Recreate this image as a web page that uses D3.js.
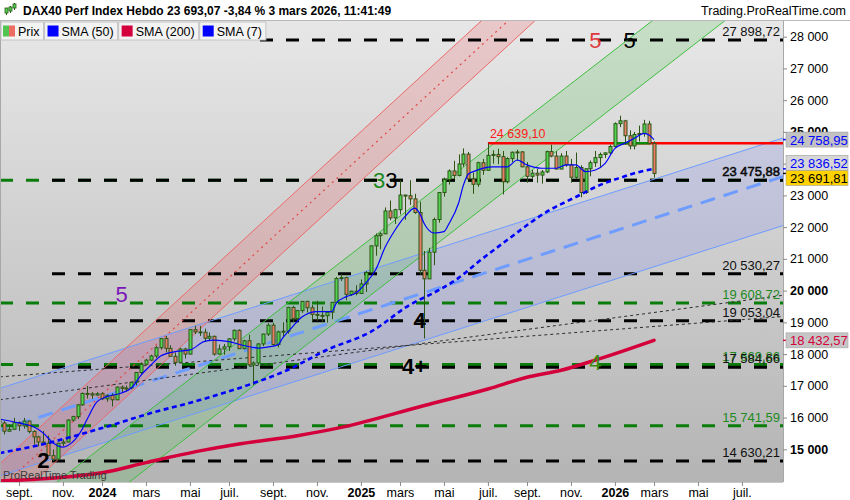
<!DOCTYPE html>
<html>
<head>
<meta charset="utf-8">
<script src="https://cdn.jsdelivr.net/npm/d3@7"></script>
<style>
  body { margin: 0; background: #fff; }
  svg { display: block; font-family: "Liberation Sans", Arial, sans-serif; }
</style>
</head>
<body>
<svg width="850" height="500"></svg>
<script>
// weekly candles : date, open, high, low, close
var candles = [
  ["2023-08-07",15950,16060,15720,15830],["2023-08-14",15830,15900,15470,15570],["2023-08-21",15570,15780,15550,15630],
  ["2023-08-28",15630,15990,15620,15840],["2023-09-04",15840,15880,15580,15740],["2023-09-11",15740,15990,15650,15890],
  ["2023-09-18",15890,15900,15500,15560],["2023-09-25",15560,15600,15150,15390],["2023-10-02",15390,15430,15090,15230],
  ["2023-10-09",15230,15580,15150,15190],["2023-10-16",15190,15430,14790,14800],["2023-10-23",14800,14990,14630,14690],
  ["2023-10-30",14690,15200,14680,15190],["2023-11-06",15190,15310,15100,15230],["2023-11-13",15230,15950,15220,15920],
  ["2023-11-20",15920,16060,15870,16030],["2023-11-27",16030,16430,15950,16400],["2023-12-04",16400,16790,16370,16760],
  ["2023-12-11",16760,17000,16600,16750],["2023-12-18",16750,16800,16590,16710],["2023-12-25",16710,16800,16690,16750],
  ["2024-01-01",16750,16800,16550,16590],["2024-01-08",16590,16730,16500,16700],["2024-01-15",16700,16770,16350,16560],
  ["2024-01-22",16560,16980,16550,16960],["2024-01-29",16960,17010,16800,16920],["2024-02-05",16920,17010,16820,16930],
  ["2024-02-12",16930,17120,16890,17110],["2024-02-19",17110,17420,17010,17420],["2024-02-26",17420,17740,17360,17680],
  ["2024-03-04",17680,17850,17650,17810],["2024-03-11",17810,17980,17780,17940],["2024-03-18",17940,18260,17880,18200],
  ["2024-03-25",18200,18500,18140,18490],["2024-04-01",18490,18570,18050,18180],["2024-04-08",18180,18280,17920,17930],
  ["2024-04-15",17930,18050,17630,17740],["2024-04-22",17740,18200,17720,18160],["2024-04-29",18160,18200,17860,18000],
  ["2024-05-06",18000,18780,17990,18770],["2024-05-13",18770,18890,18630,18700],["2024-05-20",18700,18890,18570,18690],
  ["2024-05-27",18690,18800,18380,18500],["2024-06-03",18500,18680,18400,18560],["2024-06-10",18560,18580,17950,18000],
  ["2024-06-17",18000,18300,17990,18160],["2024-06-24",18160,18320,17980,18230],["2024-07-01",18230,18500,18100,18480],
  ["2024-07-08",18480,18770,18400,18750],["2024-07-15",18750,18780,18160,18170],["2024-07-22",18170,18450,18150,18420],
  ["2024-07-29",18420,18610,17610,17660],["2024-08-05",17660,17770,17020,17720],["2024-08-12",17720,18350,17650,18320],
  ["2024-08-19",18320,18640,18250,18630],["2024-08-26",18630,18970,18570,18910],["2024-09-02",18910,18990,18270,18300],
  ["2024-09-09",18300,18740,18210,18700],["2024-09-16",18700,19000,18550,18720],["2024-09-23",18720,19490,18640,19470],
  ["2024-09-30",19470,19520,19010,19120],["2024-10-07",19120,19390,19000,19370],["2024-10-14",19370,19670,19300,19660],
  ["2024-10-21",19660,19680,19310,19460],["2024-10-28",19460,19550,19030,19250],["2024-11-04",19250,19680,19050,19220],
  ["2024-11-11",19220,19500,19020,19210],["2024-11-18",19210,19360,18990,19320],["2024-11-25",19320,19640,19100,19630],
  ["2024-12-02",19630,20430,19600,20380],["2024-12-09",20380,20520,20300,20410],["2024-12-16",20410,20440,19700,19880],
  ["2024-12-23",19880,20000,19830,19980],["2024-12-30",19980,20170,19850,19910],
  ["2025-01-06",19910,20350,19900,20210],["2025-01-13",20210,20620,19960,20570],["2025-01-20",20570,21430,20550,21410],
  ["2025-01-27",21410,21800,21100,21730],["2025-02-03",21730,21840,21300,21790],["2025-02-10",21790,22620,21780,22510],
  ["2025-02-17",22510,22840,22220,22290],["2025-02-24",22290,22580,22100,22550],["2025-03-03",22550,23480,22400,23010],
  ["2025-03-10",23010,23020,22230,22990],["2025-03-17",22990,23480,22700,22890],["2025-03-24",22890,23050,22420,22460],
  ["2025-03-31",22460,22800,20500,20640],["2025-04-07",20640,21250,18490,20370],["2025-04-14",20370,21350,20370,21210],
  ["2025-04-21",21210,22300,20800,22240],["2025-04-28",22240,23100,22140,23090],["2025-05-05",23090,23560,22960,23500],
  ["2025-05-12",23500,23820,23340,23770],["2025-05-19",23770,24090,23520,23630],["2025-05-26",23630,24290,23600,23990],
  ["2025-06-02",23990,24480,23900,24300],["2025-06-09",24300,24370,23500,23520],["2025-06-16",23520,23720,23050,23350],
  ["2025-06-23",23350,24060,23270,24030],["2025-06-30",24030,24150,23650,23790],["2025-07-07",23790,24639,23790,24260],
  ["2025-07-14",24260,24420,24000,24290],["2025-07-21",24290,24470,23980,24220],["2025-07-28",24220,24400,23030,23430],
  ["2025-08-04",23430,24200,23380,24160],["2025-08-11",24160,24380,24050,24360],["2025-08-18",24360,24440,24090,24370],
  ["2025-08-25",24370,24400,23890,23900],["2025-09-01",23900,24050,23400,23600],["2025-09-08",23600,23800,23530,23700],
  ["2025-09-15",23700,23830,23400,23640],["2025-09-22",23640,23800,23370,23740],["2025-09-29",23740,24410,23700,24380],
  ["2025-10-06",24380,24600,24200,24240],["2025-10-13",24240,24390,23820,23830],["2025-10-20",23830,24330,23820,24240],
  ["2025-10-27",24240,24400,23900,23960],["2025-11-03",23960,24150,23400,23570],["2025-11-10",23570,24350,23520,23880],
  ["2025-11-17",23880,23950,22940,23090],["2025-11-24",23090,23850,23050,23840],["2025-12-01",23840,24100,23600,24030],
  ["2025-12-08",24030,24400,23900,24190],["2025-12-15",24190,24350,23900,24290],["2025-12-22",24290,24350,24180,24340],
  ["2025-12-29",24340,24600,24300,24540],
  ["2026-01-05",24540,25300,24500,25260],["2026-01-12",25260,25510,25150,25350],["2026-01-19",25350,25380,24600,24880],
  ["2026-01-26",24880,25050,24450,24560],["2026-02-02",24560,25000,24450,24920],["2026-02-09",24920,25200,24700,24950],
  ["2026-02-16",24950,25380,24850,25250],["2026-02-23",25250,25350,24600,24640],["2026-03-02",24640,24700,23560,23693.07]
];

var sma7 = [
  ["2023-08-07",15950],["2023-09-04",15830],["2023-09-25",15710],["2023-10-09",15510],["2023-10-23",15200],
  ["2023-11-06",15070],["2023-11-13",15120],["2023-12-04",15650],["2023-12-11",15960],["2023-12-25",16500],
  ["2024-01-08",16660],["2024-01-29",16775],["2024-02-12",16930],["2024-02-26",17340],["2024-03-11",17650],
  ["2024-03-25",17940],["2024-04-15",18080],["2024-05-06",18130],["2024-05-27",18400],["2024-06-10",18440],
  ["2024-07-01",18390],["2024-07-22",18270],["2024-08-12",18190],["2024-08-26",18225],["2024-09-09",18290],
  ["2024-09-16",18510],["2024-09-30",18860],["2024-10-14",19180],["2024-11-04",19340],["2024-11-25",19340],
  ["2024-12-02",19610],["2024-12-16",19810],["2024-12-30",19925],["2025-01-13",20240],["2025-01-27",20650],
  ["2025-02-10",21380],["2025-02-24",21910],["2025-03-10",22330],["2025-03-24",22600],["2025-03-31",22445],
  ["2025-04-07",22100],["2025-04-21",21815],["2025-05-05",21860],["2025-05-12",22100],["2025-05-26",22760],
  ["2025-06-02",23330],["2025-06-09",23675],["2025-06-16",23750],["2025-07-14",23900],["2025-08-04",23900],
  ["2025-08-18",24115],["2025-09-01",23960],["2025-09-22",23855],["2025-10-13",23855],["2025-10-27",23960],
  ["2025-11-10",23960],["2025-11-24",23750],["2025-12-08",23800],["2025-12-22",24010],["2026-01-05",24480],
  ["2026-01-19",24640],["2026-02-02",24800],["2026-02-16",24955],["2026-02-23",24900],["2026-03-02",24758.95]
];
var sma50 = [
  ["2023-08-07",14880],["2023-10-16",15200],["2024-01-01",15670],["2024-03-11",16140],["2024-05-20",16550],
  ["2024-07-29",17030],["2024-09-23",17500],["2024-11-18",18130],["2025-01-20",18700],["2025-03-17",19550],
  ["2025-04-28",20020],["2025-05-26",20400],["2025-06-23",20900],["2025-08-04",21600],["2025-09-29",22480],
  ["2025-11-10",22950],["2025-12-15",23330],["2026-01-12",23550],["2026-02-09",23740],["2026-03-02",23836.52]
];
var sma200 = [
  ["2023-08-07",14000],["2024-01-01",14260],["2024-03-04",14580],["2024-05-20",14950],["2024-07-15",15170],
  ["2024-10-07",15430],["2024-12-09",15690],["2025-04-07",16380],["2025-07-07",16900],["2025-09-01",17270],
  ["2025-10-20",17490],["2025-12-08",17810],["2026-03-02",18432.57]
];

// trend channels, two points each : date, value
var redUpper = [["2024-01-01",17500],["2025-07-07",28690]];
var redMid   = [["2024-01-01",16725],["2025-07-07",27915]];
var redLower = [["2024-01-01",15950],["2025-07-07",27140]];
var greenUpper = [["2024-01-01",15070],["2025-07-07",24490]];
var greenLower = [["2024-01-01",13300],["2025-07-07",22720]];
var blueUpper = [["2024-01-01",17950],["2026-03-02",23510]];
var blueMid   = [["2024-01-01",16650],["2026-03-02",22280]];
var blueLower = [["2024-01-01",15190],["2026-03-02",20750]];
var grayLineA = [["2024-01-01",17530],["2026-03-02",18870]];
var grayLineB = [["2024-01-01",16990],["2026-03-02",19310]];

// horizontal levels
var blackLevels = [27898.72, 23475.88, 20530.27, 19053.04, 17584.66, 14630.21];
var blackStarts = ["2024-08-12","2023-10-23","2023-10-23","2023-10-23","2023-10-23","2023-10-23"];
var greenLevels = [23475.88, 19608.72, 17669.86, 15741.59];
var greenLabelled = [false, true, true, true];
var resistValue = 24639.10, resistStart = "2025-07-07";
var greenSeg = ["2026-01-05", "2026-02-23"];

// elliott count labels
var waveText   = ["2", "5", "33", "4", "4+", "4", "5", "5"];
var waveDates  = ["2023-10-09","2024-01-29","2025-02-10","2025-03-31","2025-03-24","2025-12-08","2025-12-08","2026-01-26"];
var waveValues = [14410, 19640, 23230, 18820, 17370, 17500, 27640, 27640];
var waveColors = ["#000", "#7a16b8", "#1a8a1a,#000", "#000", "#000", "#3c8c10", "#e0383c", "#000"];
var waveBold   = [true, false, false, true, true, false, false, false];

// axes
var xTickDates = ["2023-09-04","2023-11-06","2024-01-01","2024-03-04","2024-05-06","2024-07-01","2024-09-02","2024-11-04",
  "2025-01-06","2025-03-03","2025-05-05","2025-07-07","2025-09-01","2025-11-03","2026-01-05","2026-03-02","2026-05-04","2026-07-06"];
var xTickLabels = ["sept.","nov.","2024","mars","mai","juil.","sept.","nov.","2025","mars","mai","juil.","sept.","nov.","2026","mars","mai","juil."];
var yTickValues = [15000,16000,17000,18000,19000,20000,21000,22000,23000,24000,25000,26000,27000,28000];
var yBoldTicks = [15000, 20000, 25000];
var yHiddenLabels = [24000]; // covered by the value tags in the original

// right-axis value tags
var tagValues = [24758.95, 23836.52, 23691.81, 18432.57];
var tagText   = ["#0000ff", "#0000ff", "#000", "#d4003c"];
var tagFill   = ["#c2c2c2", "#d6d6d6", "#ffd200", "#c6c6c6"];
var tagShift  = [0, -6, 4.5, 0];

var legendNames  = ["Prix", "SMA (50)", "SMA (200)", "SMA (7)"];
var legendColors = [null, "#0000ff", "#d4003c", "#0000ff"];

var svg = d3.select("svg"),
    plotL = 0, plotR = 783, plotT = 21, plotB = 482;

var parse = d3.utcParse("%Y-%m-%d");
var fr = d3.formatLocale({decimal: ",", thousands: " ", grouping: [3], currency: ["", ""]});
var fmt2 = fr.format(",.2f"), fmt0 = fr.format(",.0f");

var x = d3.scaleUtc().domain([parse("2024-01-01"), parse("2026-03-02")]).range([102, 654]);
var y = d3.scaleLinear().domain([15000, 28000]).range([449.3, 36.7]);

var defs = svg.append("defs");
var grad = defs.append("linearGradient").attr("id", "bg").attr("x1", 0).attr("y1", 0).attr("x2", 0).attr("y2", 1);
grad.append("stop").attr("offset", 0).attr("stop-color", "#e7e7e7");
grad.append("stop").attr("offset", 1).attr("stop-color", "#b4b4b4");
defs.append("clipPath").attr("id", "plotclip").append("rect")
  .attr("x", plotL).attr("y", plotT).attr("width", plotR - plotL).attr("height", plotB - plotT);

svg.append("rect").attr("width", 850).attr("height", 500).attr("fill", "#fff");
svg.append("rect").attr("x", plotL).attr("y", plotT).attr("width", plotR - plotL).attr("height", plotB - plotT)
  .attr("fill", "url(#bg)");

var g = svg.append("g").attr("clip-path", "url(#plotclip)");

function pt(p) { return [x(parse(p[0])), y(p[1])]; }
function extend(line) {
  var a = pt(line[0]), b = pt(line[1]), m = (b[1] - a[1]) / (b[0] - a[0]);
  return [[-30, a[1] + m * (-30 - a[0])], [820, a[1] + m * (820 - a[0])]];
}
function band(up, lo) {
  var u = extend(up), l = extend(lo);
  return [u[0], u[1], l[1], l[0]];
}
var poly = d3.line();

// channel fills
g.append("path").attr("d", poly(band(blueUpper, blueLower)) + "Z").attr("fill", "rgba(95,115,255,0.16)");
g.append("path").attr("d", poly(band(greenUpper, greenLower)) + "Z").attr("fill", "rgba(70,190,70,0.2)");
g.append("path").attr("d", poly(band(redUpper, redLower)) + "Z").attr("fill", "rgba(235,90,90,0.22)");

// horizontal levels
g.selectAll(".glev").data(greenLevels).enter().append("line")
  .attr("x1", 0).attr("x2", plotR).attr("y1", function(d) { return y(d); }).attr("y2", function(d) { return y(d); })
  .attr("stroke", "#0b7d0b").attr("stroke-width", 3).attr("stroke-dasharray", "13,13");
g.selectAll(".blev").data(blackLevels).enter().append("line")
  .attr("x1", function(d, i) { return Math.round(x(parse(blackStarts[i])) / 26) * 26; })
  .attr("x2", plotR).attr("y1", function(d) { return y(d); }).attr("y2", function(d) { return y(d); })
  .attr("stroke", "#000").attr("stroke-width", 3).attr("stroke-dasharray", "13,13");

// channel lines
function drawLine(line, color, width, dash) {
  g.append("path").attr("d", poly(extend(line))).attr("fill", "none")
    .attr("stroke", color).attr("stroke-width", width).attr("stroke-dasharray", dash || null);
}
drawLine(blueUpper, "#6f9cff", 1);
drawLine(blueLower, "#6f9cff", 1);
drawLine(blueMid, "#6f9cff", 3, "15,9");
drawLine(greenUpper, "#3fbf3f", 1);
drawLine(greenLower, "#3fbf3f", 1);
drawLine(redUpper, "#ec6a6a", 1);
drawLine(redLower, "#ec6a6a", 1);
drawLine(redMid, "#e04848", 1.2, "2,4");
drawLine(grayLineA, "#2e2e2e", 1, "3,3");
drawLine(grayLineB, "#2e2e2e", 1, "3,3");

var smaLine = d3.line().curve(d3.curveMonotoneX)
  .x(function(d) { return x(parse(d[0])); }).y(function(d) { return y(d[1]); });

g.append("path").attr("d", smaLine(sma200)).attr("fill", "none")
  .attr("stroke", "#d4003c").attr("stroke-width", 3.5).attr("stroke-linecap", "round");

// resistance line
g.append("line").attr("x1", x(parse(resistStart))).attr("x2", plotR)
  .attr("y1", y(resistValue)).attr("y2", y(resistValue)).attr("stroke", "#ff0000").attr("stroke-width", 2.5);
g.append("line").attr("x1", x(parse(greenSeg[0]))).attr("x2", x(parse(greenSeg[1])))
  .attr("y1", y(resistValue)).attr("y2", y(resistValue)).attr("stroke", "#0a8a0a").attr("stroke-width", 2.5);

// candles
var cg = g.append("g");
cg.selectAll(".wick").data(candles).enter().append("line")
  .attr("x1", function(d) { return Math.round(x(parse(d[0]))) + 0.5; })
  .attr("x2", function(d) { return Math.round(x(parse(d[0]))) + 0.5; })
  .attr("y1", function(d) { return y(d[2]); }).attr("y2", function(d) { return y(d[3]); })
  .attr("stroke", "#2c5515").attr("stroke-width", 1);
cg.selectAll(".body").data(candles).enter().append("rect")
  .attr("x", function(d) { return Math.round(x(parse(d[0]))) - 1; })
  .attr("width", 3)
  .attr("y", function(d) { return y(Math.max(d[1], d[4])); })
  .attr("height", function(d) { return Math.max(1, Math.abs(y(d[1]) - y(d[4]))); })
  .attr("fill", function(d) { return d[4] >= d[1] ? "#52d452" : "#ec7d68"; })
  .attr("stroke", "#2c5515").attr("stroke-width", 1);

g.append("path").attr("d", smaLine(sma50)).attr("fill", "none")
  .attr("stroke", "#0000ff").attr("stroke-width", 2.6).attr("stroke-dasharray", "5,3.5");
g.append("path").attr("d", smaLine(sma7)).attr("fill", "none")
  .attr("stroke", "#0000ff").attr("stroke-width", 1.2);

// level labels
var lab = svg.append("g").attr("font-size", 13).attr("text-anchor", "end");
lab.selectAll(".gl").data(greenLevels.filter(function(d, i) { return greenLabelled[i]; })).enter().append("text")
  .attr("x", 780).attr("y", function(d) { return y(d) - 4; }).attr("fill", "#1e8a1e")
  .text(function(d) { return fmt2(d); });
lab.selectAll(".bl").data(blackLevels).enter().append("text")
  .attr("x", 780).attr("y", function(d) { return y(d) - 4; }).attr("fill", "#111")
  .attr("stroke", function(d) { return d === 23475.88 ? "#000" : null; }).attr("stroke-width", 0.5)
  .text(function(d) { return fmt2(d); });
svg.append("text").attr("x", x(parse(resistStart)) + 2).attr("y", y(resistValue) - 5)
  .attr("font-size", 12.5).attr("fill", "#ff1a1a").text(fmt2(resistValue));

// wave count labels
waveText.forEach(function(t, i) {
  var cols = waveColors[i].split(",");
  var txt = svg.append("text").attr("x", x(parse(waveDates[i]))).attr("y", y(waveValues[i]))
    .attr("text-anchor", "middle").attr("font-size", 22)
    .attr("font-weight", waveBold[i] ? "bold" : "normal");
  if (cols.length > 1) {
    t.split("").forEach(function(ch, k) { txt.append("tspan").attr("fill", cols[k]).text(ch); });
  } else {
    txt.attr("fill", cols[0]).text(t);
  }
});

svg.append("text").attr("x", 3).attr("y", 479).attr("font-size", 11).attr("fill", "#3a3a3a")
  .text("ProRealTime Trading");

// axes area
svg.append("rect").attr("x", plotR).attr("y", 0).attr("width", 850 - plotR).attr("height", 500).attr("fill", "#fff");
svg.append("rect").attr("x", 0).attr("y", plotB).attr("width", 850).attr("height", 500 - plotB).attr("fill", "#fff");
svg.append("line").attr("x1", plotR + 0.5).attr("x2", plotR + 0.5).attr("y1", plotT).attr("y2", plotB).attr("stroke", "#a8a8a8");
svg.append("line").attr("x1", 0).attr("x2", plotR).attr("y1", plotB + 0.5).attr("y2", plotB + 0.5).attr("stroke", "#c8c8c8");
svg.append("line").attr("x1", 0.5).attr("x2", 0.5).attr("y1", plotT).attr("y2", plotB).attr("stroke", "#a8a8a8");

var yAxis = svg.append("g").attr("transform", "translate(" + plotR + ",0)")
  .call(d3.axisRight(y).tickValues(yTickValues).tickSize(4).tickSizeOuter(0).tickPadding(3)
    .tickFormat(function(d) { return yHiddenLabels.indexOf(d) >= 0 ? "" : fmt0(d); }));
yAxis.select(".domain").remove();
yAxis.selectAll("line").attr("stroke", "#8a8a8a");
yAxis.selectAll("text").attr("font-size", 12.5).attr("font-family", "Liberation Sans, Arial, sans-serif").attr("fill", "#000")
  .attr("font-weight", function(d) { return yBoldTicks.indexOf(d) >= 0 ? "bold" : "normal"; });

var xAxis = svg.append("g").attr("transform", "translate(0," + plotB + ")")
  .call(d3.axisBottom(x).tickValues(xTickDates.map(parse)).tickSize(4).tickSizeOuter(0).tickPadding(2)
    .tickFormat(function(d, i) { return xTickLabels[i]; }));
xAxis.select(".domain").remove();
xAxis.selectAll("line").attr("stroke", "#8a8a8a");
xAxis.selectAll("text").attr("font-size", 12.5).attr("font-family", "Liberation Sans, Arial, sans-serif").attr("fill", "#000")
  .attr("font-weight", function(d, i) { return /^\d+$/.test(xTickLabels[i]) ? "bold" : "normal"; });

// value tags on the price axis
tagValues.forEach(function(v, i) {
  var cy = y(v) + tagShift[i];
  svg.append("line").attr("x1", plotR).attr("x2", plotR + 4).attr("y1", y(v)).attr("y2", y(v))
    .attr("stroke", tagText[i]).attr("stroke-width", 1.5);
  svg.append("rect").attr("x", plotR + 3).attr("y", cy - 7.5).attr("width", 62).attr("height", 15)
    .attr("fill", tagFill[i]).attr("stroke", "#a0a0a0").attr("stroke-width", 0.6);
  svg.append("text").attr("x", plotR + 7).attr("y", cy + 5).attr("font-size", 13).attr("fill", tagText[i])
    .text(fmt2(v));
});

// header
svg.append("rect").attr("width", 850).attr("height", 20).attr("fill", "#fff");
svg.append("line").attr("x1", 0).attr("x2", 850).attr("y1", 20.5).attr("y2", 20.5).attr("stroke", "#b8b8b8");
var icon = svg.append("g");
[[6, 9, 15, 8, 13], [10, 6, 13, 7, 11], [14, 3, 10, 4, 8]].forEach(function(c) {
  icon.append("line").attr("x1", c[0] + 0.5).attr("x2", c[0] + 0.5).attr("y1", c[1]).attr("y2", c[2]).attr("stroke", "#2c5515");
  icon.append("rect").attr("x", c[0] - 1).attr("y", c[3]).attr("width", 3).attr("height", c[4] - c[3])
    .attr("fill", "#52d452").attr("stroke", "#2c5515").attr("stroke-width", 0.8);
});
svg.append("text").attr("x", 23).attr("y", 15).attr("font-size", 12).attr("font-weight", "bold")
  .text("DAX40 Perf Index Hebdo 23 693,07 -3,84 % 3 mars 2026, 11:41:49");
svg.append("text").attr("x", 846).attr("y", 15).attr("font-size", 12.5).attr("text-anchor", "end")
  .text("Trading.ProRealTime.com");

// legend
var lx = 1;
legendNames.forEach(function(name, i) {
  var box = svg.append("g");
  var r = box.append("rect").attr("x", lx).attr("y", 22).attr("height", 18)
    .attr("fill", "#f3f3f3").attr("stroke", "#c4c4c4");
  if (legendColors[i]) {
    box.append("rect").attr("x", lx + 3).attr("y", 25.5).attr("width", 11).attr("height", 11).attr("fill", legendColors[i]);
  } else {
    box.append("rect").attr("x", lx + 2).attr("y", 25.5).attr("width", 6).attr("height", 11).attr("fill", "#52c452");
    box.append("rect").attr("x", lx + 8).attr("y", 25.5).attr("width", 6).attr("height", 11).attr("fill", "#ec6d62");
  }
  var t = box.append("text").attr("x", lx + 17).attr("y", 35.5).attr("font-size", 12.5).text(name);
  var w = t.node().getComputedTextLength() + 21;
  r.attr("width", w);
  lx += w + 1;
});
</script>
</body>
</html>
